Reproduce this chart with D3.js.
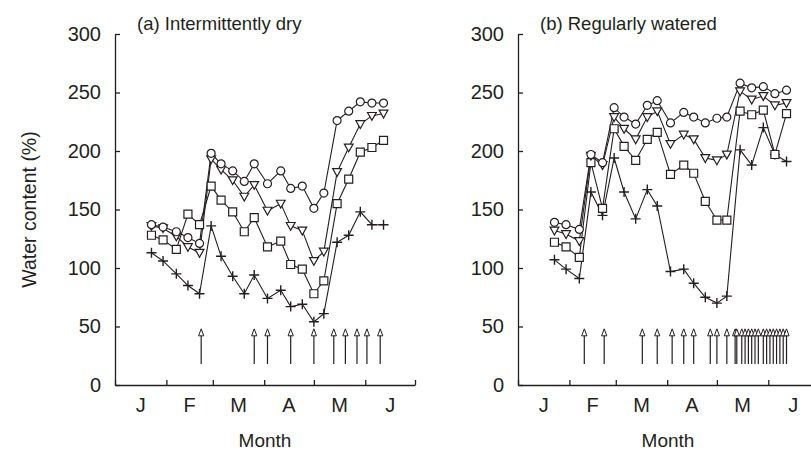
<!DOCTYPE html>
<html>
<head>
<meta charset="utf-8">
<script src="https://cdn.jsdelivr.net/npm/d3@7"></script>
<style>
  body { margin: 0; background: #fff; }
  svg text { font-family: "Liberation Sans", Arial, Helvetica, sans-serif; fill: #231f20; }
</style>
</head>
<body>
<div id="chart"></div>
<script>
// sampling dates (same for both panels), month-day
var sampleDates = ["01-23","01-30","02-07","02-14","02-21","02-28","03-06","03-13","03-20","03-26",
                   "04-03","04-11","04-17","04-24","05-01","05-07","05-15","05-22","05-29","06-05","06-12"];

// (a) intermittently dry
var dryCircle   = [137,135,131,126,121,198,189,183,174,189,172,183,168,170,151,164,226,234,242,241,241];
var dryTriangle = [136,134,127,118,113,193,184,175,161,171,149,155,136,132,106,114,182,203,223,230,232];
var drySquare   = [128,124,116,146,137,170,158,148,131,143,118,123,103,99,78,89,155,176,199,203,209];
var dryPlus     = [113,106,95,85,78,136,110,93,78,94,74,81,67,69,54,61,122,128,148,137,137];
var dryWatering = ["02-22","03-26","04-03","04-17","05-01","05-13","05-20","05-27","06-02","06-10"];

// (b) regularly watered
var wetCircle   = [139,137,133,197,190,237,229,223,239,243,224,233,229,224,228,229,258,254,255,249,252];
var wetTriangle = [132,129,123,196,188,229,219,210,229,234,206,214,210,194,192,197,251,244,247,239,241];
var wetSquare   = [122,118,109,190,151,219,204,192,210,216,180,188,181,157,141,141,234,231,235,197,232];
var wetPlus     = [107,99,91,165,145,194,165,142,167,153,97,99,87,75,70,76,201,188,220,197,191];
var wetWatering = ["02-10","02-22","03-17","03-26","04-04","04-11","04-17","04-27","05-01","05-07",
                   "05-12","05-13","05-16","05-18","05-20","05-22","05-24","05-26","05-29","05-31",
                   "06-02","06-04","06-06","06-08","06-10","06-12"];

var yTicks = [0, 50, 100, 150, 200, 250, 300];
var monthLabels = ["J", "F", "M", "A", "M", "J"];
var arrowRange = [18, 48];   // arrow foot and tip, in y units

var parseDay = d3.timeParse("%m-%d");
var W = 811, H = 452;
var ink = "#231f20";

var svg = d3.select("#chart").append("svg")
    .attr("width", W)
    .attr("height", H);

function drawPanel(config){
    var width = 300, height = 351;

    var x = d3.scaleTime()
        .domain([parseDay("01-01"), parseDay("07-01")])
        .range([0, width]);
    var y = d3.scaleLinear()
        .domain([0, 300])
        .range([height, 0]);

    var g = svg.append("g")
        .attr("transform", "translate(" + config.left + "," + config.top + ")");

    // y axis, ticks pointing inward
    var yAxis = g.append("g")
        .call(d3.axisLeft(y).tickValues(yTicks).tickSize(-5).tickSizeOuter(0).tickPadding(14));
    yAxis.selectAll("text")
        .attr("font-size", 20)
        .attr("font-family", null)
        .attr("fill", ink);

    // x axis, month boundaries
    var xAxis = g.append("g")
        .attr("transform", "translate(0," + height + ")")
        .call(d3.axisBottom(x).ticks(d3.timeMonth.every(1)).tickSize(-5).tickSizeOuter(0).tickFormat(""));

    g.selectAll(".domain, .tick line")
        .attr("stroke", ink)
        .attr("stroke-width", 1.3);

    var months = d3.timeMonth.range(parseDay("01-01"), parseDay("07-01"));
    g.append("g").selectAll("text")
        .data(monthLabels)
        .enter().append("text")
        .attr("x", function(d, i){
            var a = months[i], b = d3.timeMonth.offset(a, 1);
            return x(new Date((+a + +b) / 2));
        })
        .attr("y", height + 27)
        .attr("text-anchor", "middle")
        .attr("font-size", 20)
        .text(function(d){ return d; });

    g.append("text")
        .attr("x", width / 2)
        .attr("y", height + 62)
        .attr("text-anchor", "middle")
        .attr("font-size", 19)
        .text("Month");

    g.append("text")
        .attr("x", 22)
        .attr("y", -4.5)
        .attr("font-size", 18.5)
        .text(config.title);

    if (config.yLabel){
        g.append("text")
            .attr("transform", "translate(-79," + (height / 2) + ") rotate(-90)")
            .attr("text-anchor", "middle")
            .attr("font-size", 19.5)
            .text(config.yLabel);
    }

    // watering arrows
    var arrows = g.append("g").selectAll("g")
        .data(config.watering.map(parseDay))
        .enter().append("g");
    arrows.append("line")
        .attr("x1", function(d){ return x(d); })
        .attr("x2", function(d){ return x(d); })
        .attr("y1", y(arrowRange[0]))
        .attr("y2", y(arrowRange[1]) + 6)
        .attr("stroke", ink)
        .attr("stroke-width", 1.2);
    arrows.append("path")
        .attr("d", function(d){
            var cx = x(d), ty = y(arrowRange[1]);
            return "M" + cx + "," + ty + "L" + (cx + 2.6) + "," + (ty + 7) + "L" + (cx - 2.6) + "," + (ty + 7) + "Z";
        })
        .attr("fill", "#fff")
        .attr("stroke", ink)
        .attr("stroke-width", 1);

    var dates = sampleDates.map(parseDay);
    var line = d3.line()
        .x(function(d){ return x(d.date); })
        .y(function(d){ return y(d.value); });

    var series = config.series.map(function(s){
        return { shape: s.shape, points: s.values.map(function(v, i){ return { date: dates[i], value: v }; }) };
    });

    g.append("g").selectAll("path")
        .data(series)
        .enter().append("path")
        .attr("d", function(d){ return line(d.points); })
        .attr("fill", "none")
        .attr("stroke", ink)
        .attr("stroke-width", 1.1);

    var shapes = {
        circle: d3.symbol().type(d3.symbolCircle).size(Math.PI * 16)(),
        square: "M-4,-4H4V4H-4Z",
        triangle: "M-4.4,-3.4L4.4,-3.4L0,4.4Z",
        plus: "M-5,0H5M0,-5V5"
    };

    series.forEach(function(s){
        g.append("g").selectAll("path")
            .data(s.points)
            .enter().append("path")
            .attr("transform", function(d){ return "translate(" + x(d.date) + "," + y(d.value) + ")"; })
            .attr("d", shapes[s.shape])
            .attr("fill", s.shape == "plus" ? "none" : "#fff")
            .attr("stroke", ink)
            .attr("stroke-width", s.shape == "plus" ? 1.4 : 1.2);
    });
}

drawPanel({
    left: 115, top: 34,
    title: "(a) Intermittently dry",
    yLabel: "Water content (%)",
    watering: dryWatering,
    series: [
        { shape: "plus", values: dryPlus },
        { shape: "square", values: drySquare },
        { shape: "triangle", values: dryTriangle },
        { shape: "circle", values: dryCircle }
    ]
});

drawPanel({
    left: 518, top: 34,
    title: "(b) Regularly watered",
    watering: wetWatering,
    series: [
        { shape: "plus", values: wetPlus },
        { shape: "square", values: wetSquare },
        { shape: "triangle", values: wetTriangle },
        { shape: "circle", values: wetCircle }
    ]
});
</script>
</body>
</html>
